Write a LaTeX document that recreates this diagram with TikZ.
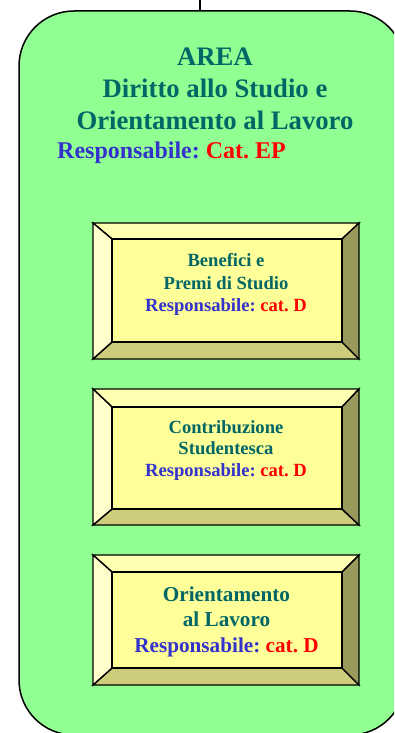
\documentclass[tikz,border=0pt]{standalone}
\usepackage{fontspec}
\setmainfont{Liberation Serif}
\frenchspacing
\definecolor{areagreen}{RGB}{146,255,146}
\definecolor{teal}{RGB}{0,102,102}
\definecolor{respblue}{RGB}{51,51,204}
\definecolor{catred}{RGB}{255,0,0}
\definecolor{boxface}{RGB}{255,255,153}
\definecolor{bevtop}{RGB}{255,255,178}
\definecolor{bevleft}{RGB}{255,255,204}
\definecolor{bevright}{RGB}{153,153,92}
\definecolor{bevbot}{RGB}{204,204,122}
\newcommand{\resp}[1]{{\color{respblue}Responsabile:} {\color{catred}#1}}
\tikzset{
  area/.style = {draw=black, line width=1.5pt, fill=areagreen,
                 rounded corners=55pt, inner sep=0pt},
  bevel/.style = {draw=black, line width=1.4pt, line join=miter},
  boxtext/.style 2 args = {align=center, inner sep=0pt, text=teal,
                 font=\bfseries\fontsize{#1}{#2}\selectfont}
}

\begin{document}
\begin{tikzpicture}[x=1pt, y=-1pt]
	\def \xl{93}   % outer left
	\def \xr{359}  % outer right
	\def \il{112}  % inner left
	\def \ir{342}  % inner right

	\useasboundingbox (0,0) rectangle (394,733);
	\clip (0,0) rectangle (394,733);

	% Area
	\node[area, minimum width=386pt, minimum height=724pt] (area) at (212,373) {};
	\coordinate (up) at (200,0);
	\draw[line width=1.2pt] (up) -- (up |- area.north);

	\node[boxtext={26.7}{32}, anchor=north] (title) at (215,47.3)
		{AREA\\Diritto allo Studio e\\Orientamento al Lavoro};
	\node[boxtext={24}{29}, anchor=base west] (titleresp) at (57,158) {\resp{Cat. EP}};

	% Box 1
	\filldraw[bevel, fill=bevtop]   (\xl,223) -- (\xr,223) -- (\ir,239) -- (\il,239) -- cycle;
	\filldraw[bevel, fill=bevbot]   (\xl,359) -- (\xr,359) -- (\ir,342) -- (\il,342) -- cycle;
	\filldraw[bevel, fill=bevleft]  (\xl,223) -- (\il,239) -- (\il,342) -- (\xl,359) -- cycle;
	\filldraw[bevel, fill=bevright] (\xr,223) -- (\ir,239) -- (\ir,342) -- (\xr,359) -- cycle;
	\filldraw[bevel, fill=boxface]  (\il,239) rectangle (\ir,342);
	\node[boxtext={18.6}{22.5}, anchor=north] (benefici) at (226,253.3)
		{Benefici e\\Premi di Studio\\\resp{cat. D}};

	% Box 2
	\filldraw[bevel, fill=bevtop]   (\xl,389) -- (\xr,389) -- (\ir,407) -- (\il,407) -- cycle;
	\filldraw[bevel, fill=bevbot]   (\xl,525) -- (\xr,525) -- (\ir,509) -- (\il,509) -- cycle;
	\filldraw[bevel, fill=bevleft]  (\xl,389) -- (\il,407) -- (\il,509) -- (\xl,525) -- cycle;
	\filldraw[bevel, fill=bevright] (\xr,389) -- (\ir,407) -- (\ir,509) -- (\xr,525) -- cycle;
	\filldraw[bevel, fill=boxface]  (\il,407) rectangle (\ir,509);
	\node[boxtext={18.6}{21.5}, anchor=north] (contribuzione) at (226,420.3)
		{Contribuzione\\Studentesca\\\resp{cat. D}};

	% Box 3
	\filldraw[bevel, fill=bevtop]   (\xl,555) -- (\xr,555) -- (\ir,572) -- (\il,572) -- cycle;
	\filldraw[bevel, fill=bevbot]   (\xl,685) -- (\xr,685) -- (\ir,668) -- (\il,668) -- cycle;
	\filldraw[bevel, fill=bevleft]  (\xl,555) -- (\il,572) -- (\il,668) -- (\xl,685) -- cycle;
	\filldraw[bevel, fill=bevright] (\xr,555) -- (\ir,572) -- (\ir,668) -- (\xr,685) -- cycle;
	\filldraw[bevel, fill=boxface]  (\il,572) rectangle (\ir,668);
	\node[boxtext={21.2}{25.5}, anchor=north] (orientamento) at (226.5,586.4)
		{Orientamento\\al Lavoro\\\resp{cat. D}};

\end{tikzpicture}
\end{document}
